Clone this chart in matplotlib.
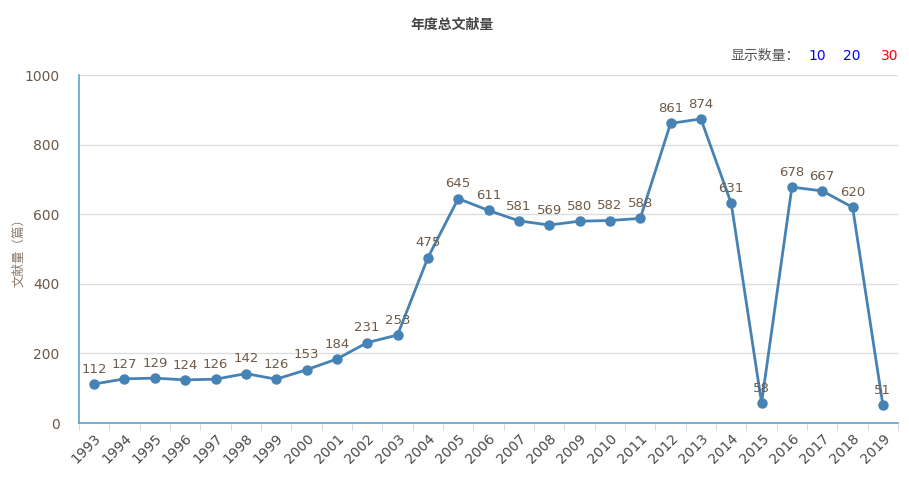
"""年度总文献量 折线图"""

import matplotlib
matplotlib.use("Agg")
import matplotlib.pyplot as plt

plt.rcParams["font.family"] = ["Noto Sans CJK SC", "DejaVu Sans"]

years = [str(y) for y in range(1993, 2020)]
counts = [112, 127, 129, 124, 126, 142, 126, 153, 184, 231, 253, 475, 645, 611,
          581, 569, 580, 582, 588, 861, 874, 631, 58, 678, 667, 620, 51]
y_ticks = [0, 200, 400, 600, 800, 1000]

LINE = "#4682b4"
AXIS = "#5aa5cf"
TEXT = "#6b5848"

fig = plt.figure(figsize=(9.09, 4.78), dpi=100)
ax = fig.add_axes([0.0869, 0.115, 0.9011, 0.728])

x = list(range(len(years)))
ax.plot(x, counts, color=LINE, linewidth=2, marker="o", markersize=6.5, zorder=3)
for xi, v in zip(x, counts):
    ax.annotate(str(v), (xi, v), xytext=(0, 6), textcoords="offset points",
                ha="center", va="bottom", fontsize=9.5, color="#6e5a46",
                family="DejaVu Sans")

ax.set_xlim(-0.5, len(years) - 0.5)
ax.set_ylim(0, 1000)
ax.set_yticks(y_ticks)
ax.set_yticklabels([str(t) for t in y_ticks], fontsize=10, color=TEXT,
                   family="DejaVu Sans")
ax.set_xticks(x)
ax.set_xticklabels(years, rotation=45, ha="right", rotation_mode="anchor",
                   fontsize=10, color="#4a4a4a", family="DejaVu Sans")
ax.tick_params(axis="x", length=0, pad=6)
ax.tick_params(axis="y", length=0, pad=14)
# category boundary ticks
ax.set_xticks([i - 0.5 for i in range(len(years) + 1)], minor=True)
ax.tick_params(axis="x", which="minor", length=5, color="#c8d6e0", direction="out")

ax.grid(axis="y", color="#dddddd", linewidth=1)
ax.set_axisbelow(True)
for side in ["top", "right"]:
    ax.spines[side].set_visible(False)
ax.spines["left"].set_color(AXIS)
ax.spines["bottom"].set_color(AXIS)
ax.spines["left"].set_linewidth(1.2)
ax.spines["bottom"].set_linewidth(1.2)

ax.set_ylabel("文献量（篇）", fontsize=9, color="#8a7a6a", labelpad=2)
ax.yaxis.set_label_coords(-0.066, 0.5)

fig.text(0.497, 0.948, "年度总文献量", ha="center", va="center", fontsize=10,
         fontweight="bold", color="#444444")
fig.text(0.842, 0.882, "显示数量：", ha="center", va="center", fontsize=10,
         color="#555555")
fig.text(0.899, 0.882, "10", ha="center", va="center", fontsize=10, color="#0000ff",
         family="DejaVu Sans")
fig.text(0.937, 0.882, "20", ha="center", va="center", fontsize=10, color="#0000ff",
         family="DejaVu Sans")
fig.text(0.979, 0.882, "30", ha="center", va="center", fontsize=10, color="#ff0000",
         family="DejaVu Sans")

fig.savefig("out.png", dpi=100)
plt.close(fig)
